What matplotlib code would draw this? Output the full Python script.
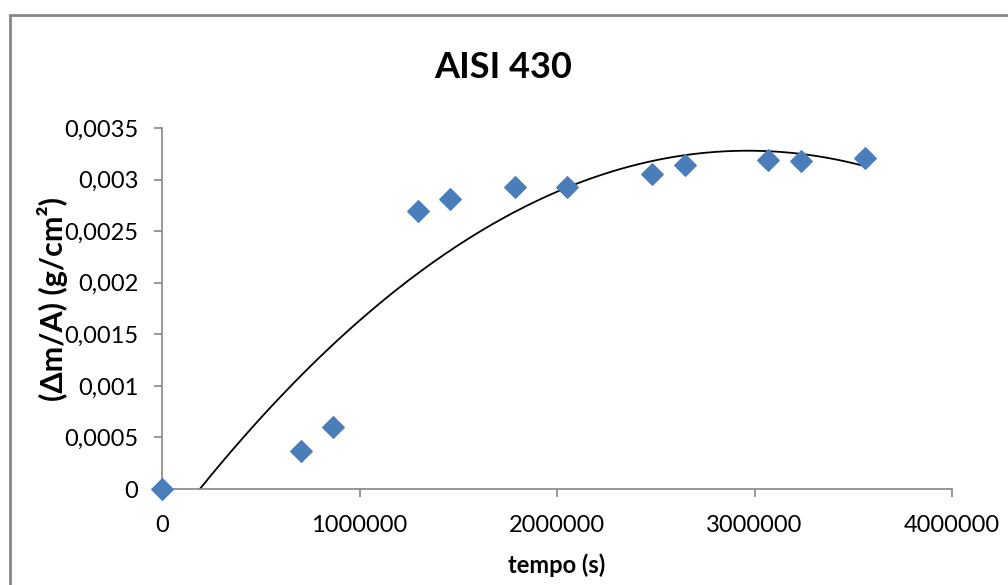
import numpy as np
import matplotlib
matplotlib.use("Agg")
from matplotlib import pyplot as plt
from matplotlib.patches import Rectangle

# data
tempo = [0, 704000, 866000, 1296000, 1458000, 1787000, 2051000,
         2481000, 2648000, 3068000, 3235000, 3559000]
dm_a = [0.0, 0.000368, 0.000601, 0.002696, 0.002813, 0.002929, 0.002929,
        0.003055, 0.003143, 0.003191, 0.003181, 0.003210]
xticks = [0, 1000000, 2000000, 3000000, 4000000]
yticks = [0, 0.0005, 0.001, 0.0015, 0.002, 0.0025, 0.003, 0.0035]
ytick_labels = ["0", "0,0005", "0,001", "0,0015", "0,002", "0,0025", "0,003", "0,0035"]

plt.rcParams['font.family'] = ['Lato', 'DejaVu Sans']

fig = plt.figure(figsize=(10.08, 5.85), dpi=100)
ax = fig.add_axes([162/1008, 1-489/585, (952-162)/1008, (489-128)/585])

# polynomial trendline (2nd order), like excel
coef = np.polyfit(tempo, dm_a, 2)
xs = np.linspace(min(tempo), max(tempo), 300)
ax.plot(xs, np.polyval(coef, xs), color="black", lw=1.3, zorder=2)

ax.scatter(tempo, dm_a, marker="D", s=120, color="#4a7ebb", zorder=3, clip_on=False)

ax.set_xlim(0, 4000000)
ax.set_ylim(0, 0.0035)
ax.set_xticks(xticks)
ax.set_xticklabels([str(t) for t in xticks])
ax.set_yticks(yticks)
ax.set_yticklabels(ytick_labels)
ax.tick_params(axis="both", labelsize=17, colors="#868686", labelcolor="black",
               length=6, width=1.2)
ax.tick_params(axis="y", pad=11)
ax.tick_params(axis="x", pad=13)
for s in ["top", "right"]:
    ax.spines[s].set_visible(False)
for s in ["left", "bottom"]:
    ax.spines[s].set_color("#868686")
    ax.spines[s].set_linewidth(1.2)

fig.text(503/1008, 1-67/585, "AISI 430", fontsize=26, fontweight="bold",
         ha="center", va="center")
fig.text(557/1008, 1-565/585, "tempo (s)", fontsize=17, fontweight="bold",
         ha="center", va="center")
fig.text(52/1008, 1-299/585, "(Δm/A) (g/cm²)", fontsize=22, fontweight="bold",
         ha="center", va="center", rotation=90)

# chart area border
fig.patches.append(Rectangle((10/1008, -0.05), 1.1, 1-15/585+0.05,
                             transform=fig.transFigure, fill=False,
                             edgecolor="#868686", lw=2))

fig.savefig("out.png", dpi=100)
